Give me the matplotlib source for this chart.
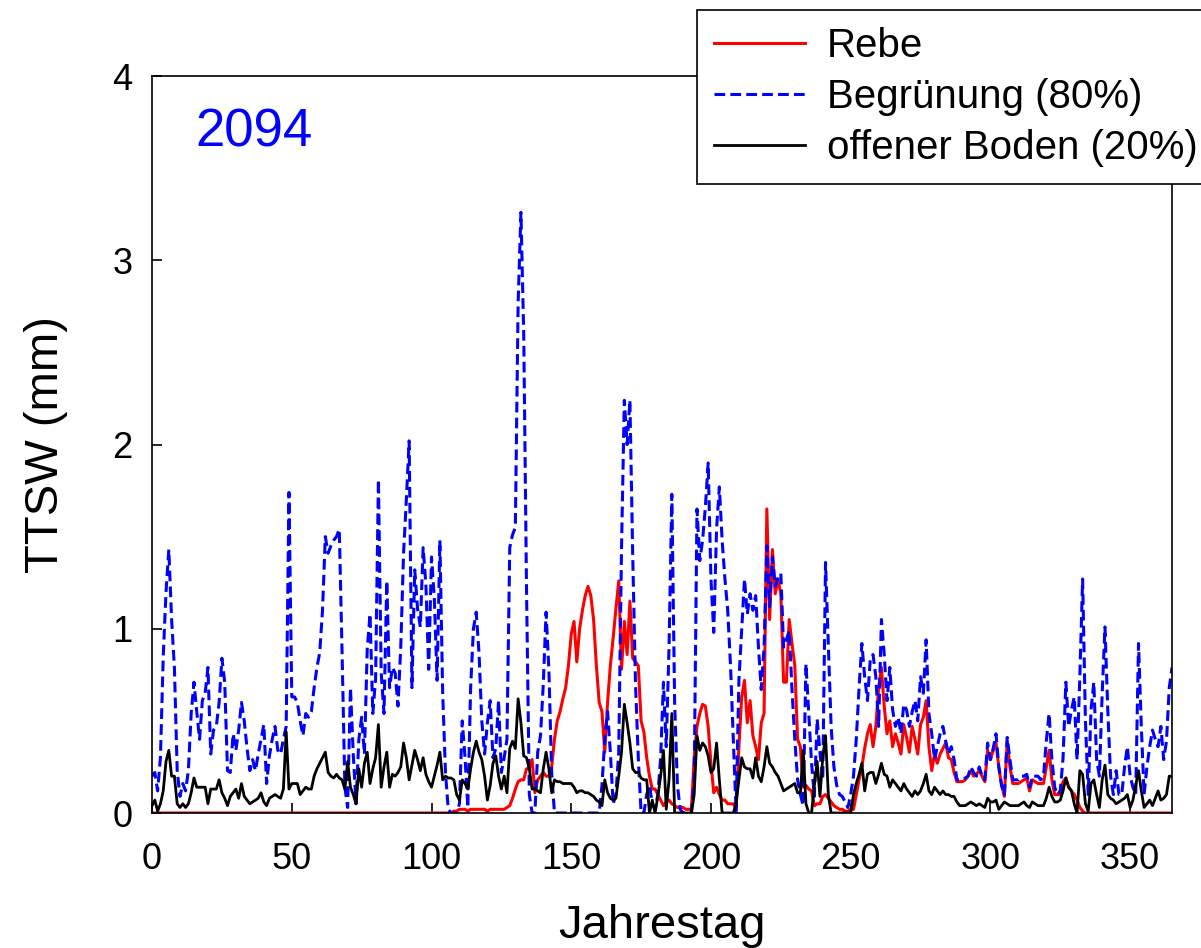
import numpy as np
import matplotlib
matplotlib.use("Agg")
import matplotlib.pyplot as plt

plt.rcParams["font.family"] = ["Liberation Sans", "DejaVu Sans"]

# Jahrestag 0..365
days = np.arange(0, 366)

# Rebe (mm)
rebe = (
    [0.0] * 108
    + [0.01, 0.01]
    + [0.02, 0.02, 0.02, 0.01, 0.02, 0.02, 0.02, 0.02, 0.02, 0.02]   # 110
    + [0.01, 0.02, 0.02, 0.02, 0.02, 0.02, 0.02, 0.03, 0.04, 0.08]   # 120
    + [0.13, 0.17, 0.18, 0.18, 0.24, 0.24, 0.29, 0.11, 0.18, 0.20]   # 130
    + [0.22, 0.20, 0.20, 0.25, 0.40, 0.50, 0.55, 0.62, 0.68, 0.80]   # 140
    + [0.97, 1.04, 0.82, 1.00, 1.10, 1.18, 1.23, 1.18, 1.05, 0.80]   # 150
    + [0.60, 0.55, 0.33, 0.60, 0.80, 0.95, 1.11, 1.26, 0.78, 1.04]   # 160
    + [0.86, 1.15, 0.84, 0.82, 0.80, 0.50, 0.44, 0.30, 0.20, 0.13]   # 170
    + [0.13, 0.10, 0.07, 0.04, 0.06, 0.07, 0.05, 0.04, 0.03, 0.03]   # 180
    + [0.03, 0.02, 0.02, 0.02, 0.30, 0.47, 0.54, 0.59, 0.58, 0.47]   # 190
    + [0.27, 0.11, 0.14, 0.10, 0.07, 0.07, 0.05, 0.05, 0.05, 0.02]   # 200
    + [0.36, 0.63, 0.72, 0.49, 0.61, 0.42, 0.36, 0.29, 0.49, 0.54]   # 210
    + [1.65, 1.05, 1.43, 1.19, 1.27, 1.19, 0.71, 0.71, 1.05, 0.92]   # 220
    + [0.80, 0.40, 0.36, 0.14, 0.15, 0.13, 0.12, 0.04, 0.05, 0.05]   # 230
    + [0.09, 0.10, 0.08, 0.06, 0.04, 0.03, 0.02, 0.02, 0.01, 0.01]   # 240
    + [0.02, 0.02, 0.10, 0.18, 0.25, 0.35, 0.43, 0.48, 0.36, 0.47]   # 250
    + [0.68, 0.79, 0.58, 0.43, 0.50, 0.36, 0.43, 0.38, 0.32, 0.48]   # 260
    + [0.41, 0.33, 0.47, 0.40, 0.32, 0.48, 0.52, 0.61, 0.36, 0.23]   # 270
    + [0.32, 0.27, 0.32, 0.35, 0.38, 0.30, 0.29, 0.22, 0.17, 0.17]   # 280
    + [0.17, 0.18, 0.20, 0.23, 0.20, 0.21, 0.23, 0.20, 0.17, 0.34]   # 290
    + [0.29, 0.34, 0.38, 0.25, 0.15, 0.09, 0.39, 0.25, 0.16, 0.16]   # 300
    + [0.16, 0.17, 0.18, 0.19, 0.12, 0.18, 0.17, 0.16, 0.16, 0.16]   # 310
    + [0.25, 0.34, 0.18, 0.10, 0.10, 0.10, 0.17, 0.19, 0.14, 0.12]   # 320
    + [0.10, 0.07, 0.03, 0.01]                                       # 330
    + [0.0] * 32
)

# Begrünung 80 % (mm)
begruenung = (
    [0.20, 0.22, 0.12, 0.30, 0.85, 1.20, 1.43, 1.05, 0.79, 0.23]     # 0
    + [0.09, 0.16, 0.12, 0.23, 0.54, 0.71, 0.55, 0.40, 0.61, 0.65]   # 10
    + [0.79, 0.32, 0.45, 0.47, 0.60, 0.84, 0.71, 0.23, 0.22, 0.43]   # 20
    + [0.34, 0.45, 0.60, 0.50, 0.35, 0.23, 0.29, 0.23, 0.32, 0.40]   # 30
    + [0.48, 0.16, 0.31, 0.40, 0.47, 0.34, 0.32, 0.40, 0.47, 1.74]   # 40
    + [0.63, 0.63, 0.60, 0.50, 0.42, 0.54, 0.52, 0.55, 0.68, 0.79]   # 50
    + [0.87, 1.10, 1.50, 1.41, 1.45, 1.48, 1.50, 1.54, 0.87, 0.14]   # 60
    + [0.03, 0.68, 0.32, 0.05, 0.40, 0.52, 0.32, 0.89, 1.08, 0.54]   # 70
    + [0.73, 1.81, 0.76, 0.54, 1.26, 0.68, 0.79, 0.76, 0.58, 0.90]   # 80
    + [1.41, 1.70, 2.02, 0.68, 1.32, 1.11, 1.01, 1.44, 1.24, 0.78]   # 90
    + [1.39, 1.17, 0.72, 1.48, 0.65, 0.22, 0.02, 0.00, 0.00, 0.00]   # 100
    + [0.05, 0.50, 0.30, 0.03, 0.68, 1.00, 1.09, 0.87, 0.50, 0.32]   # 110
    + [0.49, 0.61, 0.30, 0.35, 0.61, 0.22, 0.30, 0.40, 1.44, 1.51]   # 120
    + [1.55, 2.77, 3.26, 2.60, 1.22, 0.10, 0.00, 0.00, 0.33, 0.42]   # 130
    + [0.70, 1.09, 0.78, 0.22, 0.00, 0.00, 0.00, 0.00, 0.00, 0.00]   # 140
    + [0.00] * 10                                                    # 150
    + [0.00, 0.15, 0.40, 0.55, 0.33, 0.05, 0.10, 0.33, 1.44, 2.24]   # 160
    + [2.00, 2.24, 1.40, 0.70, 0.30, 0.00, 0.00, 0.10, 0.15, 0.05]   # 170
    + [0.02, 0.10, 0.30, 0.71, 0.36, 0.90, 1.73, 0.60, 0.15, 0.02]   # 180
    + [0.00, 0.00, 0.00, 0.00, 0.18, 1.65, 1.37, 1.48, 1.66, 1.90]   # 190
    + [1.27, 0.98, 1.54, 1.77, 1.48, 1.27, 1.10, 0.80, 0.40, 0.00]   # 200
    + [0.72, 1.00, 1.27, 1.08, 1.19, 1.10, 1.18, 0.90, 0.67, 0.90]   # 210
    + [1.45, 1.12, 1.39, 1.23, 1.28, 1.30, 0.90, 0.94, 0.99, 0.67]   # 220
    + [0.40, 0.18, 0.10, 0.04, 0.81, 0.54, 0.27, 0.09, 0.51, 0.33]   # 230
    + [0.18, 1.36, 0.92, 0.47, 0.25, 0.15, 0.10, 0.09, 0.06, 0.03]   # 240
    + [0.10, 0.20, 0.40, 0.68, 0.92, 0.74, 0.61, 0.83, 0.86, 0.74]   # 250
    + [0.47, 1.05, 0.86, 0.61, 0.79, 0.56, 0.47, 0.52, 0.43, 0.59]   # 260
    + [0.56, 0.47, 0.55, 0.61, 0.50, 0.74, 0.65, 0.94, 0.54, 0.43]   # 270
    + [0.29, 0.36, 0.43, 0.47, 0.39, 0.32, 0.36, 0.29, 0.18, 0.18]   # 280
    + [0.18, 0.19, 0.20, 0.25, 0.22, 0.20, 0.25, 0.20, 0.18, 0.38]   # 290
    + [0.29, 0.35, 0.43, 0.25, 0.15, 0.10, 0.41, 0.29, 0.18, 0.18]   # 300
    + [0.18, 0.20, 0.20, 0.21, 0.14, 0.20, 0.20, 0.20, 0.18, 0.20]   # 310
    + [0.39, 0.54, 0.29, 0.14, 0.10, 0.12, 0.30, 0.71, 0.47, 0.56]   # 320
    + [0.63, 0.29, 0.74, 1.27, 0.50, 0.10, 0.56, 0.71, 0.29, 0.20]   # 330
    + [0.65, 1.01, 0.56, 0.20, 0.10, 0.23, 0.10, 0.10, 0.25, 0.36]   # 340
    + [0.20, 0.14, 0.10, 0.92, 0.47, 0.10, 0.25, 0.36, 0.45, 0.40]   # 350
    + [0.36, 0.47, 0.29, 0.39, 0.68, 0.79]                           # 360
)

# offener Boden 20 % (mm)
boden = (
    [0.04, 0.07, 0.01, 0.05, 0.12, 0.28, 0.34, 0.20, 0.20, 0.05]     # 0
    + [0.03, 0.05, 0.03, 0.05, 0.11, 0.19, 0.14, 0.14, 0.14, 0.14]   # 10
    + [0.05, 0.13, 0.13, 0.13, 0.18, 0.11, 0.08, 0.04, 0.09, 0.11]   # 20
    + [0.13, 0.08, 0.16, 0.09, 0.07, 0.05, 0.06, 0.07, 0.08, 0.11]   # 30
    + [0.06, 0.04, 0.08, 0.09, 0.10, 0.09, 0.08, 0.13, 0.44, 0.13]   # 40
    + [0.16, 0.16, 0.16, 0.10, 0.12, 0.14, 0.13, 0.13, 0.20, 0.24]   # 50
    + [0.27, 0.30, 0.33, 0.22, 0.20, 0.19, 0.21, 0.19, 0.18, 0.13]   # 60
    + [0.28, 0.14, 0.10, 0.05, 0.24, 0.14, 0.27, 0.33, 0.16, 0.24]   # 70
    + [0.30, 0.48, 0.14, 0.25, 0.33, 0.14, 0.21, 0.20, 0.22, 0.25]   # 80
    + [0.38, 0.30, 0.18, 0.26, 0.34, 0.29, 0.23, 0.30, 0.21, 0.17]   # 90
    + [0.14, 0.20, 0.26, 0.33, 0.18, 0.20, 0.19, 0.19, 0.18, 0.10]   # 100
    + [0.07, 0.18, 0.16, 0.13, 0.24, 0.33, 0.39, 0.33, 0.29, 0.20]   # 110
    + [0.07, 0.15, 0.27, 0.31, 0.20, 0.13, 0.20, 0.11, 0.35, 0.39]   # 120
    + [0.35, 0.62, 0.49, 0.31, 0.30, 0.24, 0.13, 0.13, 0.12, 0.11]   # 130
    + [0.24, 0.33, 0.24, 0.11, 0.18, 0.17, 0.17, 0.16, 0.16, 0.16]   # 140
    + [0.16, 0.14, 0.11, 0.12, 0.12, 0.11, 0.11, 0.10, 0.09, 0.07]   # 150
    + [0.06, 0.04, 0.18, 0.11, 0.08, 0.07, 0.08, 0.20, 0.33, 0.59]   # 160
    + [0.49, 0.38, 0.24, 0.22, 0.22, 0.19, 0.18, 0.18, 0.00, 0.07]   # 170
    + [0.00, 0.09, 0.20, 0.34, 0.02, 0.18, 0.54, 0.00, 0.00, 0.00]   # 180
    + [0.00, 0.00, 0.00, 0.00, 0.10, 0.42, 0.34, 0.38, 0.36, 0.31]   # 190
    + [0.22, 0.24, 0.38, 0.18, 0.00, 0.00, 0.00, 0.00, 0.00, 0.05]   # 200
    + [0.18, 0.30, 0.25, 0.24, 0.24, 0.19, 0.30, 0.20, 0.17, 0.25]   # 210
    + [0.36, 0.27, 0.25, 0.22, 0.20, 0.16, 0.12, 0.13, 0.14, 0.15]   # 220
    + [0.16, 0.11, 0.11, 0.34, 0.05, 0.00, 0.00, 0.15, 0.28, 0.09]   # 230
    + [0.30, 0.42, 0.10, 0.00, 0.00, 0.00, 0.00, 0.00, 0.00, 0.00]   # 240
    + [0.00, 0.10, 0.16, 0.21, 0.27, 0.12, 0.21, 0.22, 0.22, 0.16]   # 250
    + [0.21, 0.27, 0.21, 0.20, 0.14, 0.18, 0.16, 0.14, 0.12, 0.16]   # 260
    + [0.13, 0.11, 0.09, 0.12, 0.10, 0.12, 0.16, 0.21, 0.12, 0.10]   # 270
    + [0.14, 0.12, 0.10, 0.12, 0.10, 0.10, 0.09, 0.09, 0.06, 0.04]   # 280
    + [0.04, 0.04, 0.05, 0.06, 0.05, 0.04, 0.05, 0.04, 0.03, 0.08]   # 290
    + [0.06, 0.06, 0.07, 0.02, 0.04, 0.06, 0.05, 0.04, 0.04, 0.04]   # 300
    + [0.04, 0.05, 0.06, 0.04, 0.03, 0.06, 0.05, 0.04, 0.04, 0.04]   # 310
    + [0.08, 0.14, 0.09, 0.06, 0.06, 0.07, 0.12, 0.19, 0.14, 0.12]   # 320
    + [0.05, 0.00, 0.23, 0.21, 0.05, 0.01, 0.16, 0.18, 0.10, 0.03]   # 330
    + [0.18, 0.26, 0.10, 0.08, 0.07, 0.05, 0.06, 0.07, 0.08, 0.10]   # 340
    + [0.03, 0.07, 0.15, 0.23, 0.12, 0.03, 0.05, 0.07, 0.04, 0.08]   # 350
    + [0.12, 0.07, 0.08, 0.10, 0.20, 0.20]                           # 360
)

labels = ["Rebe", "Begrünung (80%)", "offener Boden (20%)"]
year = "2094"
x_ticks = [0, 50, 100, 150, 200, 250, 300, 350]
y_ticks = [0, 1, 2, 3, 4]

fig = plt.figure(figsize=(12.01, 9.48), dpi=100)
ax = fig.add_axes([0.1266, 0.1424, 0.8493, 0.7774])

ax.plot(days, rebe, color="#ff0000", lw=2.2, label=labels[0])
ax.plot(days, begruenung, color="#0000ff", lw=2.2, ls=(0, (3.5, 1.7)),
        label=labels[1])
ax.plot(days, boden, color="black", lw=2.0, label=labels[2])

ax.set_xlim(0, 365)
ax.set_ylim(0, 4)
ax.set_xticks(x_ticks)
ax.set_yticks(y_ticks)
ax.tick_params(direction="in", length=7, width=1.2, labelsize=26)
ax.tick_params(axis="x", pad=21)
ax.tick_params(axis="y", pad=14)
for sp in ax.spines.values():
    sp.set_linewidth(1.2)

ax.set_xlabel("Jahrestag", fontsize=34, labelpad=19)
ax.set_ylabel("TTSW (mm)", fontsize=34, labelpad=32)

ax.text(0.042, 0.905, year, transform=ax.transAxes, color="#0000ff",
        fontsize=38, ha="left", va="baseline")

# legend box runs off the right edge of the figure
leg = fig.legend(loc="upper left", bbox_to_anchor=(697 / 1201, 1 - 10 / 948),
                 fontsize=29, frameon=True, fancybox=False, borderpad=0.42,
                 borderaxespad=0, handlelength=2.25, handletextpad=0.55,
                 labelspacing=0.32)
leg.get_frame().set_edgecolor("black")
leg.get_frame().set_linewidth(1.2)
leg.get_frame().set_alpha(1)

fig.savefig("out.png", dpi=100)
